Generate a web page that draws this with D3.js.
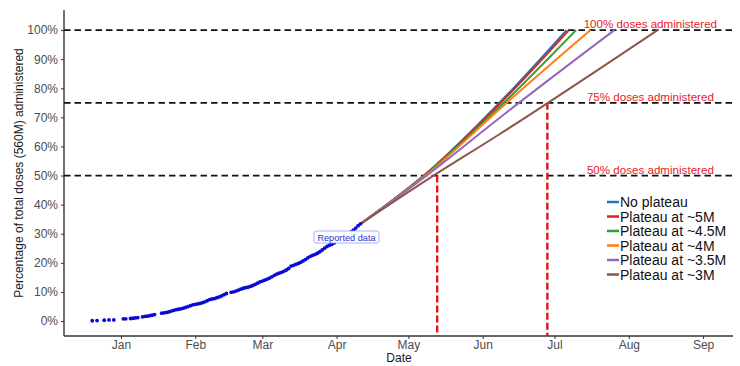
<!DOCTYPE html>
<html><head><meta charset="utf-8">
<script src="https://cdn.jsdelivr.net/npm/d3@7"></script>
<style>
html,body{margin:0;padding:0;background:#fff;}
svg{display:block;font-family:"Liberation Sans",Arial,sans-serif;}
</style></head>
<body><svg id="c" width="740" height="366"></svg>
<script>
// Reported cumulative doses, % of 560M
const reportedDates = ["2020-12-20","2020-12-22","2020-12-25","2020-12-27","2020-12-29","2021-01-02","2021-01-03",
"2021-01-05","2021-01-06","2021-01-07","2021-01-08","2021-01-10","2021-01-11","2021-01-12","2021-01-13","2021-01-14","2021-01-15",
"2021-01-18","2021-01-19","2021-01-20","2021-01-21","2021-01-22","2021-01-23","2021-01-24","2021-01-25","2021-01-26","2021-01-27","2021-01-28","2021-01-29","2021-01-30","2021-01-31",
"2021-02-01","2021-02-02","2021-02-03","2021-02-04","2021-02-05","2021-02-06","2021-02-07","2021-02-08","2021-02-09","2021-02-10","2021-02-11","2021-02-12","2021-02-13","2021-02-14",
"2021-02-16","2021-02-17","2021-02-18","2021-02-19","2021-02-20","2021-02-21","2021-02-22","2021-02-23","2021-02-24","2021-02-25","2021-02-26","2021-02-27","2021-02-28",
"2021-03-01","2021-03-02","2021-03-03","2021-03-04","2021-03-05","2021-03-06","2021-03-07","2021-03-08","2021-03-09","2021-03-10","2021-03-11","2021-03-12","2021-03-13","2021-03-14","2021-03-15",
"2021-03-16","2021-03-17","2021-03-18","2021-03-19","2021-03-20","2021-03-21","2021-03-22","2021-03-23","2021-03-24","2021-03-25","2021-03-26","2021-03-27","2021-03-28","2021-03-29","2021-03-30","2021-03-31",
"2021-04-01","2021-04-02","2021-04-03","2021-04-04","2021-04-05","2021-04-06","2021-04-07","2021-04-08","2021-04-09","2021-04-10","2021-04-11"];
const reportedPct = [0.10,0.14,0.27,0.36,0.38,0.75,0.77,
0.86,0.95,1.05,1.20,1.43,1.61,1.66,1.84,1.98,2.20,
2.68,2.80,2.95,3.13,3.41,3.66,3.89,4.05,4.20,4.41,4.68,4.98,5.29,5.55,
5.75,5.86,6.05,6.29,6.61,6.96,7.36,7.57,7.71,8.00,8.29,8.64,9.04,9.45,
9.86,10.05,10.30,10.64,10.95,11.27,11.46,11.61,11.88,12.20,12.59,13.00,13.43,
13.73,14.04,14.38,14.75,15.18,15.70,16.14,16.45,16.73,17.09,17.54,18.05,18.88,19.13,19.48,
19.77,20.18,20.66,21.13,21.68,22.23,22.59,22.89,23.30,23.80,24.41,25.04,25.63,26.04,26.36,26.84,
27.43,28.14,28.88,29.48,29.86,30.11,30.63,31.23,31.93,32.77,33.39];

// Projection scenarios (% of 560M): start, May 10, Jun 8, then reach 100% on the end date
const scenarioNames = ["No plateau","Plateau at ~5M","Plateau at ~4.5M","Plateau at ~4M","Plateau at ~3.5M","Plateau at ~3M"];
const scenarioColors = ["#1f77b4","#d62728","#2ca02c","#ff7f0e","#9467bd","#8c564b"];
const scenarioStartDate = "2021-04-11";
const scenarioStartPct = 33.39;
const scenarioMidDates = ["2021-05-10","2021-06-08"];
const scenarioMidPct = [
  [51.8, 75.0],
  [51.7, 74.5],
  [51.5, 73.5],
  [51.2, 72.8],
  [50.9, 69.8],
  [49.2, 64.2]
];
const scenarioEndDates = ["2021-07-06","2021-07-07","2021-07-10","2021-07-16","2021-07-26","2021-08-13"];
const scenarioEndPct = 100;

// Threshold reference lines
const thresholdPct = [100, 75, 50];
const thresholdLabels = ["100% doses administered","75% doses administered","50% doses administered"];
const thresholdLabelDate = "2021-08-10";
const crossingDates = ["2021-05-13","2021-06-28"];
const crossingPct = [50, 75];

const xTickDates = ["2021-01-01","2021-02-01","2021-03-01","2021-04-01","2021-05-01","2021-06-01","2021-07-01","2021-08-01","2021-09-01"];
const xTickLabels = ["Jan","Feb","Mar","Apr","May","Jun","Jul","Aug","Sep"];
const yTicks = [0,10,20,30,40,50,60,70,80,90,100];

const parse = d3.timeParse("%Y-%m-%d");
const svg = d3.select("#c");
const L = 64, R = 733, T = 10, B = 336;

const x = d3.scaleTime().domain([new Date(2020,11,8,5), new Date(2021,8,13,12)]).range([L, R]);
const y = d3.scaleLinear().domain([-5.15, 106.9]).range([B, T]);

// axes
const xAxis = d3.axisBottom(x).tickValues(xTickDates.map(parse)).tickFormat((d,i)=>xTickLabels[i]).tickSize(3).tickPadding(1.5);
const gx = svg.append("g").attr("transform",`translate(0,${B})`).call(xAxis);
const yAxis = d3.axisLeft(y).tickValues(yTicks).tickFormat(d=>d+"%").tickSize(3).tickPadding(3);
const gy = svg.append("g").attr("transform",`translate(${L},0)`).call(yAxis);
[gx,gy].forEach(g=>{
  g.select(".domain").remove();
  g.selectAll(".tick line").attr("stroke","#333").attr("stroke-width",1);
  g.selectAll(".tick text").attr("fill","#4d4d4d").attr("font-size",12).attr("font-family","Liberation Sans, Arial, sans-serif");
});
svg.append("line").attr("x1",L).attr("x2",L).attr("y1",T).attr("y2",B).attr("stroke","#333").attr("stroke-width",1.4);
svg.append("line").attr("x1",L).attr("x2",R).attr("y1",B).attr("y2",B).attr("stroke","#333").attr("stroke-width",1.4);

// axis titles
svg.append("text").attr("transform",`translate(23,${(T+B)/2}) rotate(-90)`).attr("text-anchor","middle")
  .attr("font-size",12).attr("fill","#1a1a1a").text("Percentage of total doses (560M) administered");
svg.append("text").attr("x",399).attr("y",362).attr("text-anchor","middle").attr("font-size",12).attr("fill","#1a1a1a").text("Date");

// horizontal thresholds
svg.append("g").selectAll("line").data(thresholdPct).join("line")
  .attr("x1",L).attr("x2",R).attr("y1",d=>y(d)).attr("y2",d=>y(d))
  .attr("stroke","#111").attr("stroke-width",1.8).attr("stroke-dasharray","6.5,4");

// vertical crossing lines
svg.append("g").selectAll("line").data(crossingDates).join("line")
  .attr("x1",d=>x(parse(d))).attr("x2",d=>x(parse(d)))
  .attr("y1",(d,i)=>y(crossingPct[i])).attr("y2",B)
  .attr("stroke","#e8101a").attr("stroke-width",2.4).attr("stroke-dasharray","7,3");

// scenario lines
const line = d3.line().x(d=>x(d[0])).y(d=>y(d[1])).curve(d3.curveMonotoneX);
const scen = scenarioNames.map((n,i)=>[
  [parse(scenarioStartDate), scenarioStartPct],
  [parse(scenarioMidDates[0]), scenarioMidPct[i][0]],
  [parse(scenarioMidDates[1]), scenarioMidPct[i][1]],
  [parse(scenarioEndDates[i]), scenarioEndPct]
]);
svg.append("g").selectAll("path").data(scen).join("path")
  .attr("d",line).attr("fill","none")
  .attr("stroke",(d,i)=>scenarioColors[i]).attr("stroke-width",2);

// reported data points
svg.append("g").selectAll("circle").data(reportedDates).join("circle")
  .attr("cx",d=>x(parse(d))).attr("cy",(d,i)=>y(reportedPct[i])).attr("r",1.9).attr("fill","#0a0ad8");

// threshold labels
svg.append("g").selectAll("text").data(thresholdPct).join("text")
  .attr("x",x(parse(thresholdLabelDate))).attr("y",d=>y(d)-2).attr("text-anchor","middle")
  .attr("font-size",11.6).attr("fill","#e8202a").text((d,i)=>thresholdLabels[i]);

// reported data label
const lbl = svg.append("g");
lbl.append("rect").attr("x",314).attr("y",231).attr("width",65).attr("height",12).attr("rx",2)
  .attr("fill","#fff").attr("stroke","#9a9af0").attr("stroke-width",0.8);
lbl.append("text").attr("x",346.5).attr("y",240.5).attr("text-anchor","middle").attr("font-size",9.2)
  .attr("fill","#3030d0").text("Reported data");

// legend
const leg = svg.append("g");
scenarioNames.forEach((n,i)=>{
  const yy = 202 + i*14.5;
  leg.append("line").attr("x1",607).attr("x2",619).attr("y1",yy).attr("y2",yy).attr("stroke",scenarioColors[i]).attr("stroke-width",2.5);
  leg.append("text").attr("x",620).attr("y",yy+5).attr("font-size",14).attr("fill","#111").text(n);
});
</script></body></html>
